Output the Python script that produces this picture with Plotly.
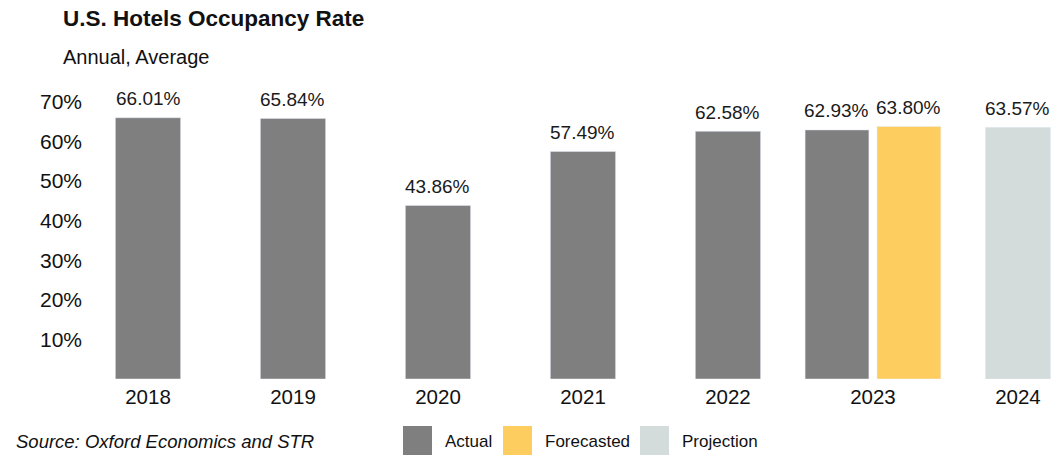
import plotly.graph_objects as go

years = ["2018", "2019", "2020", "2021", "2022", "2023", "2024"]
actual_years = ["2018", "2019", "2020", "2021", "2022", "2023"]
actual = [66.01, 65.84, 43.86, 57.49, 62.58, 62.93]
forecast_years = ["2023"]
forecast = [63.80]
projection_years = ["2024"]
projection = [63.57]
y_ticks = [10, 20, 30, 40, 50, 60, 70]

C_ACT = "#7f7f80"
C_FC = "#fdcd60"
C_PR = "#d3dcdb"
FONT = "Liberation Sans, Arial, sans-serif"

W = 0.45
W2 = 0.44
GAP = 0.028

def off_actual(y):
    return -(W2 + GAP) if y in forecast_years else -W / 2

act_off = [off_actual(y) for y in actual_years]
act_w = [W2 if y in forecast_years else W for y in actual_years]

fig = go.Figure()
fig.add_trace(go.Bar(x=actual_years, y=actual, name="Actual", marker_color=C_ACT,
                     offset=act_off, width=act_w, showlegend=False))
fig.add_trace(go.Bar(x=forecast_years, y=forecast, name="Forecasted", marker_color=C_FC,
                     offset=GAP, width=W2, showlegend=False))
fig.add_trace(go.Bar(x=projection_years, y=projection, name="Projection", marker_color=C_PR,
                     offset=-W / 2, width=W, showlegend=False))

LBL = dict(family=FONT, size=19, color="#1a1a1a")
annots = []
def add_labels(xs, ys, offs, ws):
    for x, y, o, w in zip(xs, ys, offs, ws):
        annots.append(dict(x=years.index(x) + o + w / 2, y=y, xref="x", yref="y",
                           text=f"{y:.2f}%", showarrow=False, yanchor="middle",
                           yshift=19, font=LBL))
add_labels(actual_years, actual, act_off, act_w)
add_labels(forecast_years, forecast, [GAP], [W2])
add_labels(projection_years, projection, [-W / 2], [W])

# layout geometry (pixels)
L, R, T, B = 90, 0, 94, 76
PW, PH = 1051 - L - R, 455 - T - B
def px(xp):
    return (xp - L) / PW
def py(yp):
    return (455 - B - yp) / PH

annots.append(dict(x=px(61), y=py(18), xref="paper", yref="paper", xanchor="left",
                   yanchor="middle", showarrow=False, text="<b>U.S. Hotels Occupancy Rate</b>",
                   font=dict(family=FONT, size=22.5, color="#111")))
annots.append(dict(x=px(61), y=py(57), xref="paper", yref="paper", xanchor="left",
                   yanchor="middle", showarrow=False, text="Annual, Average",
                   font=dict(family=FONT, size=20, color="#111")))
annots.append(dict(x=px(14), y=py(441), xref="paper", yref="paper", xanchor="left",
                   yanchor="middle", showarrow=False, text="<i>Source: Oxford Economics and STR</i>",
                   font=dict(family=FONT, size=18.5, color="#111")))

LEG = dict(family=FONT, size=17, color="#111")
shapes = []
for name, col, sx, tx in [("Actual", C_ACT, 403, 443), ("Forecasted", C_FC, 503, 543),
                          ("Projection", C_PR, 640, 680)]:
    shapes.append(dict(type="rect", xref="paper", yref="paper", x0=px(sx), x1=px(sx + 29),
                       y0=py(456), y1=py(426), fillcolor=col, line_width=0))
    annots.append(dict(x=px(tx), y=py(441), xref="paper", yref="paper", xanchor="left",
                       yanchor="middle", showarrow=False, text=name, font=LEG))

fig.update_layout(
    width=1051, height=455,
    margin=dict(l=L, r=R, t=T, b=B),
    paper_bgcolor="white", plot_bgcolor="white",
    annotations=annots, shapes=shapes,
    xaxis=dict(type="category", categoryorder="array", categoryarray=years,
               range=[-0.4, 6.228], showgrid=False, zeroline=False, showline=False,
               ticks="", ticklabelstandoff=3,
               tickfont=dict(family=FONT, size=20.5, color="#111")),
    yaxis=dict(range=[0, 72], tickvals=y_ticks, ticktext=[f"{v}%" for v in y_ticks],
               showgrid=False, zeroline=False, showline=False, ticks="", ticklabelstandoff=7,
               tickfont=dict(family=FONT, size=21, color="#111")),
)

fig.write_html("out.html", config={"displayModeBar": False},
               post_script="document.body.style.margin='0';document.body.style.overflow='hidden';")
